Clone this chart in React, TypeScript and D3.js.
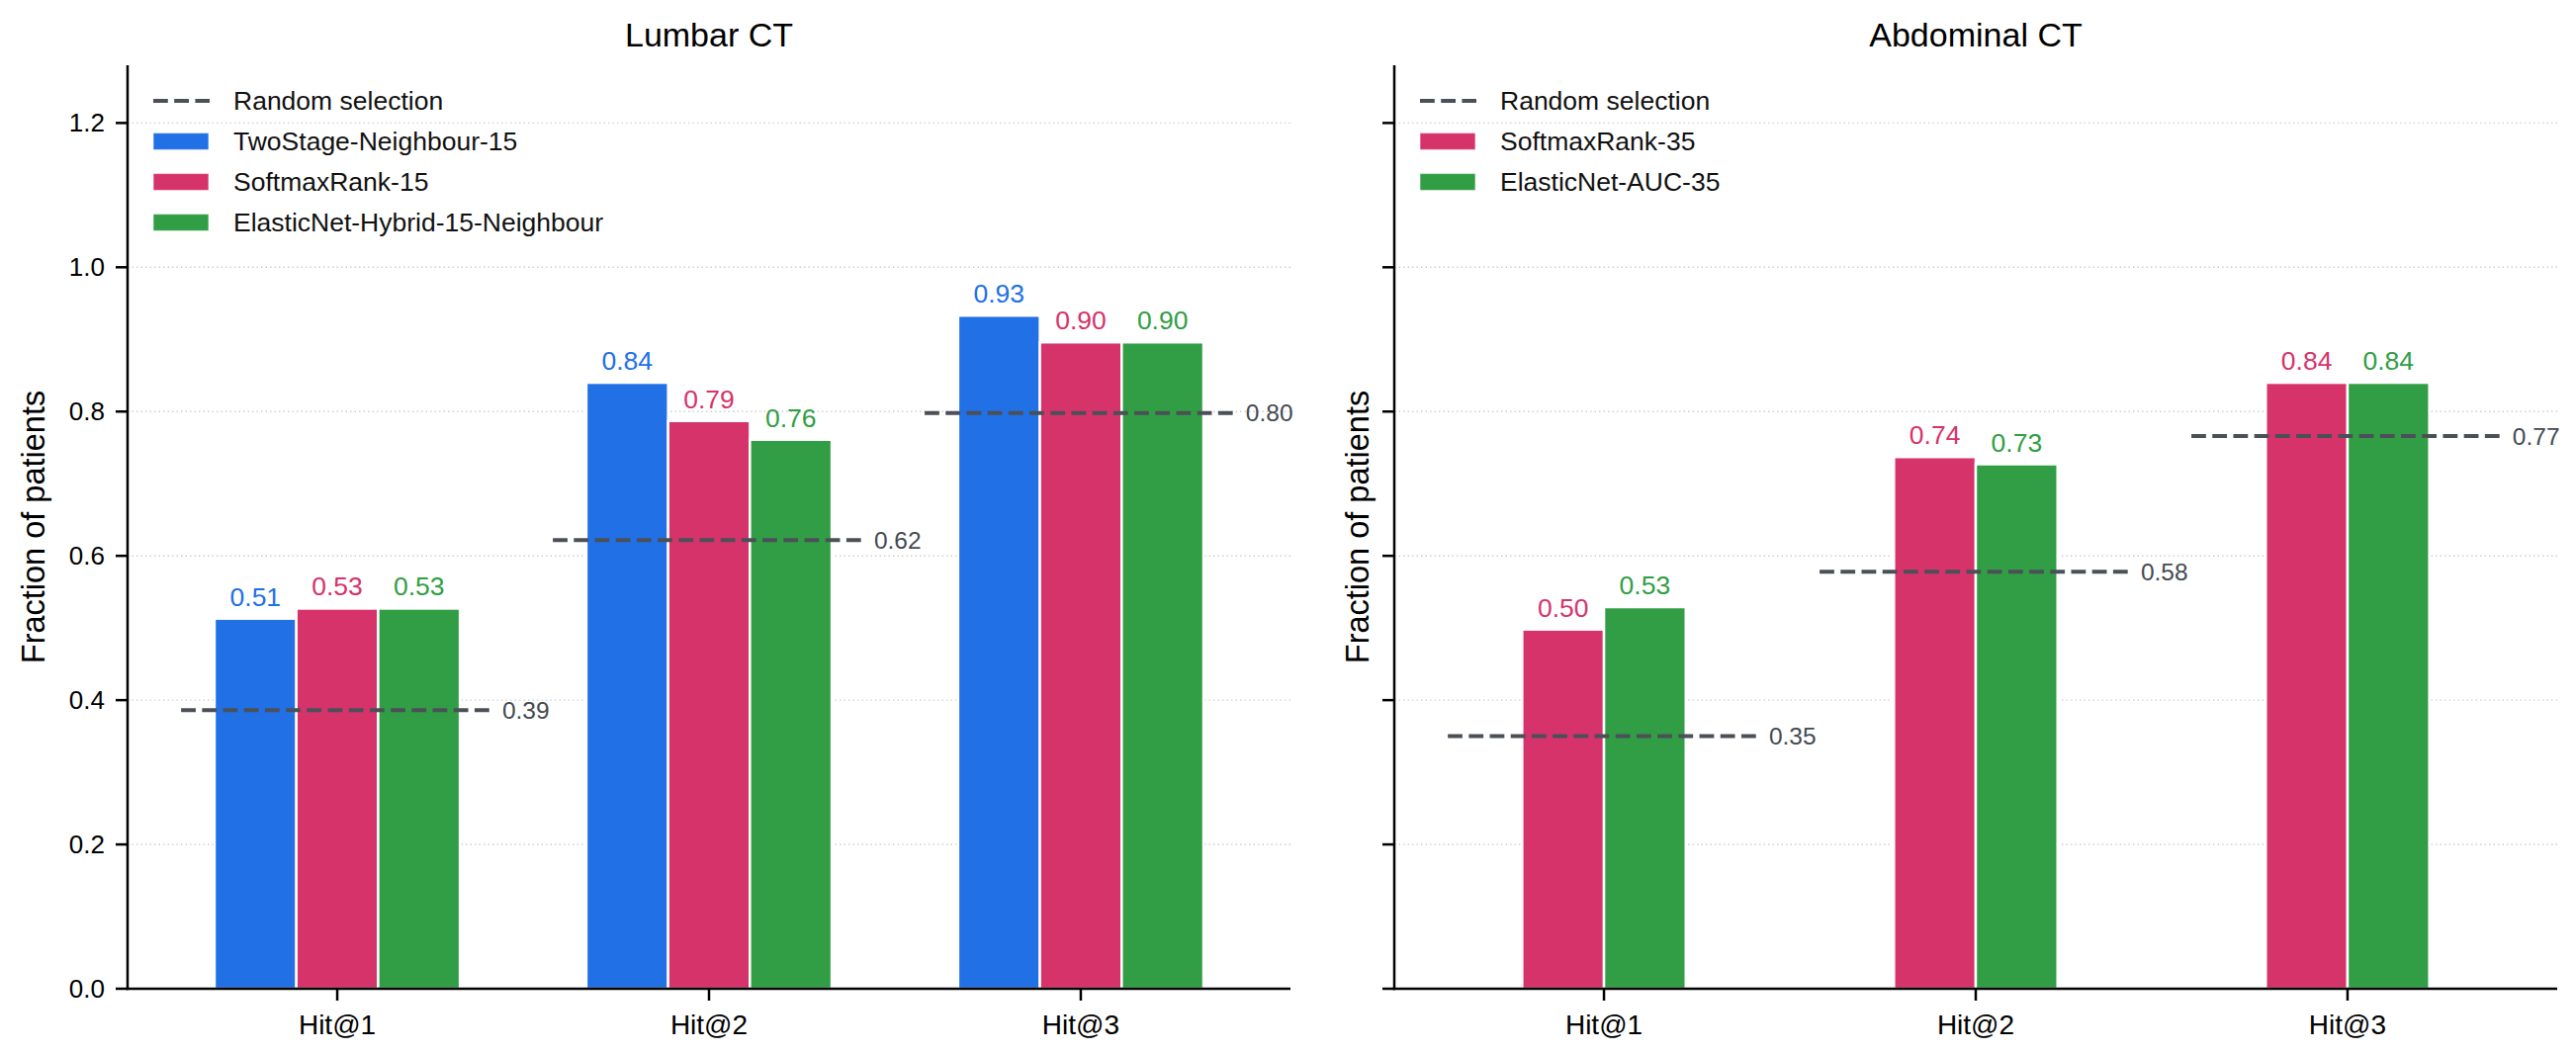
import React from "react";
import * as d3 from "d3";

const categories = ["Hit@1", "Hit@2", "Hit@3"];
const yTicks = [0, 0.2, 0.4, 0.6, 0.8, 1.0, 1.2];

const lumbarNames = ["TwoStage-Neighbour-15", "SoftmaxRank-15", "ElasticNet-Hybrid-15-Neighbour"];
const lumbarTwoStage = [0.513, 0.84, 0.933];
const lumbarSoftmax = [0.527, 0.787, 0.896];
const lumbarElastic = [0.527, 0.761, 0.896];
const lumbarRandom = [0.386, 0.622, 0.798];

const abdominalNames = ["SoftmaxRank-35", "ElasticNet-AUC-35"];
const abdominalSoftmax = [0.498, 0.737, 0.84];
const abdominalElastic = [0.529, 0.727, 0.84];
const abdominalRandom = [0.35, 0.578, 0.766];

const BLUE = "#2170e6";
const PINK = "#d6336b";
const GREEN = "#319e45";
const DASH = "#4b5058";
const FONT = "'Liberation Sans', Arial, Helvetica, sans-serif";

const W = 2605;
const H = 1065;
const TOP = 66;
const BOTTOM = 1000;
const BAR_W = 0.22;

type Series = { name: string; color: string; values: number[] };

function Panel({
  x0,
  x1,
  title,
  series,
  random,
  showYTickLabels,
}: {
  x0: number;
  x1: number;
  title: string;
  series: Series[];
  random: number[];
  showYTickLabels: boolean;
}) {
  const x = d3.scaleLinear().domain([-0.564, 2.564]).range([x0, x1]);
  const y = d3.scaleLinear().domain([0, 1.28]).range([BOTTOM, TOP]);
  const unit = x(1) - x(0);
  const n = series.length;
  const fmt = d3.format(".2f");
  const fmt1 = d3.format(".1f");
  const cx = (x0 + x1) / 2;
  const cy = (TOP + BOTTOM) / 2;
  const yLabelX = showYTickLabels ? x0 - 84 : x0 - 26;

  return (
    <g>
      {/* grid */}
      {yTicks.filter((t) => t > 0).map((t) => (
        <line
          key={"g" + t}
          x1={x0}
          x2={x1}
          y1={y(t)}
          y2={y(t)}
          stroke="#cfcfcf"
          strokeWidth={1.4}
          strokeDasharray="1.5 3"
        />
      ))}
      {/* bars */}
      {series.map((s, si) =>
        s.values.map((v, ci) => {
          const c = ci + (si - (n - 1) / 2) * BAR_W;
          const bx = x(c - BAR_W / 2);
          return (
            <g key={s.name + ci}>
              <rect
                x={bx}
                y={y(v)}
                width={BAR_W * unit}
                height={y(0) - y(v)}
                fill={s.color}
                stroke="#ffffff"
                strokeWidth={2.5}
              />
              <text
                x={x(c)}
                y={y(v) - 13}
                textAnchor="middle"
                fontFamily={FONT}
                fontSize={26.5}
                fill={s.color}
              >
                {fmt(v)}
              </text>
            </g>
          );
        })
      )}
      {/* random lines */}
      {random.map((r, ci) => (
        <g key={"r" + ci}>
          <line
            x1={x(ci - 0.42)}
            x2={x(ci + 0.42)}
            y1={y(r)}
            y2={y(r)}
            stroke={DASH}
            strokeWidth={4}
            strokeDasharray="14.8 6.4"
          />
          <text
            x={x(ci + 0.42) + 9}
            y={y(r)}
            dy="0.35em"
            fontFamily={FONT}
            fontSize={24.5}
            fill="#444a52"
          >
            {fmt(r)}
          </text>
        </g>
      ))}
      {/* spines */}
      <line x1={x0} x2={x0} y1={TOP} y2={BOTTOM + 1.25} stroke="#000" strokeWidth={2.5} />
      <line x1={x0 - 1.25} x2={x1} y1={BOTTOM} y2={BOTTOM} stroke="#000" strokeWidth={2.5} />
      {/* y ticks */}
      {yTicks.map((t) => (
        <g key={"yt" + t}>
          <line x1={x0 - 12} x2={x0} y1={y(t)} y2={y(t)} stroke="#000" strokeWidth={2.5} />
          {showYTickLabels && (
            <text
              x={x0 - 23}
              y={y(t)}
              dy="0.35em"
              textAnchor="end"
              fontFamily={FONT}
              fontSize={26}
              fill="#000"
            >
              {fmt1(t)}
            </text>
          )}
        </g>
      ))}
      {/* x ticks */}
      {categories.map((c, ci) => (
        <g key={"xt" + c}>
          <line x1={x(ci)} x2={x(ci)} y1={BOTTOM} y2={BOTTOM + 12} stroke="#000" strokeWidth={2.5} />
          <text
            x={x(ci)}
            y={1046}
            textAnchor="middle"
            fontFamily={FONT}
            fontSize={28}
            fill="#000"
          >
            {c}
          </text>
        </g>
      ))}
      {/* y label */}
      <text
        transform={`translate(${yLabelX},${cy}) rotate(-90)`}
        textAnchor="middle"
        fontFamily={FONT}
        fontSize={32.5}
        fill="#000"
      >
        Fraction of patients
      </text>
      {/* title */}
      <text x={cx} y={47} textAnchor="middle" fontFamily={FONT} fontSize={34} fill="#000">
        {title}
      </text>
      {/* legend */}
      <g>
        <line
          x1={x0 + 26}
          x2={x0 + 83}
          y1={102}
          y2={102}
          stroke={DASH}
          strokeWidth={4}
          strokeDasharray="14.8 6.4"
        />
        <text x={x0 + 107} y={102} dy="0.35em" fontFamily={FONT} fontSize={26.5} fill="#111">
          Random selection
        </text>
        {series.map((s, si) => {
          const ly = 102 + 41 * (si + 1);
          return (
            <g key={"lg" + s.name}>
              <rect
                x={x0 + 26}
                y={ly - 8.5}
                width={56}
                height={17}
                fill={s.color}
                stroke="#ffffff"
                strokeOpacity={0.5}
                strokeWidth={1.2}
              />
              <text x={x0 + 107} y={ly} dy="0.35em" fontFamily={FONT} fontSize={26.5} fill="#111">
                {s.name}
              </text>
            </g>
          );
        })}
      </g>
    </g>
  );
}

export default function App() {
  const lumbar: Series[] = [
    { name: lumbarNames[0], color: BLUE, values: lumbarTwoStage },
    { name: lumbarNames[1], color: PINK, values: lumbarSoftmax },
    { name: lumbarNames[2], color: GREEN, values: lumbarElastic },
  ];
  const abdominal: Series[] = [
    { name: abdominalNames[0], color: PINK, values: abdominalSoftmax },
    { name: abdominalNames[1], color: GREEN, values: abdominalElastic },
  ];
  return (
    <svg
      width={W}
      height={H}
      viewBox={`0 0 ${W} ${H}`}
      style={{ position: "absolute", left: 0, top: 0, background: "#fff" }}
    >
      <rect x={0} y={0} width={W} height={H} fill="#fff" />
      <Panel x0={129} x1={1305} title="Lumbar CT" series={lumbar} random={lumbarRandom} showYTickLabels={true} />
      <Panel x0={1410} x1={2586} title="Abdominal CT" series={abdominal} random={abdominalRandom} showYTickLabels={false} />
    </svg>
  );
}
